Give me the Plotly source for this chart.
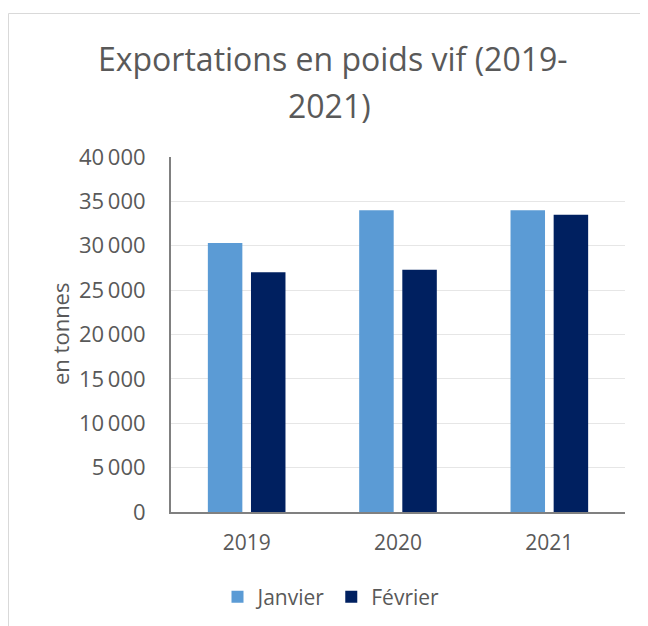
import plotly.graph_objects as go

years = ["2019", "2020", "2021"]
janvier = [30300, 34000, 34000]
fevrier = [27000, 27300, 33500]
tick_vals = [0, 5000, 10000, 15000, 20000, 25000, 30000, 35000, 40000]
tick_text = ["0", "5\u2009000", "10\u2009000", "15\u2009000", "20\u2009000",
             "25\u2009000", "30\u2009000", "35\u2009000", "40\u2009000"]
title_lines = ["Exportations en poids vif (2019-", "2021)"]

FONT = "Open Sans, Noto Sans, sans-serif"
GRAY = "#595959"

fig = go.Figure()
fig.add_trace(go.Bar(name="Janvier", x=years, y=janvier, marker_color="#5b9bd5",
                     marker_line_width=0))
fig.add_trace(go.Bar(name="Février", x=years, y=fevrier, marker_color="#002060",
                     marker_line_width=0))

W, H = 648, 626
OFF = 8  # page body margin offset
L, R, T, B = 163, 31, 149, 122
pw, ph = W - L - R, H - T - B

def px(xs):
    return (xs - OFF - L) / pw

def py(ys):
    return (H - B - (ys - OFF)) / ph

fig.update_layout(
    width=W, height=H,
    margin=dict(l=L, r=R, t=T, b=B, autoexpand=False),
    paper_bgcolor="white", plot_bgcolor="white",
    barmode="group", bargap=0.43, bargroupgap=0.2,
    font=dict(family=FONT, color=GRAY),
    xaxis=dict(showgrid=False, showline=True, linecolor="#808080", linewidth=2,
               ticks="", ticklabelstandoff=11, tickangle=0, automargin=False,
               tickfont=dict(size=21, color=GRAY, family=FONT)),
    yaxis=dict(range=[0, 40000], tickvals=tick_vals, ticktext=tick_text,
               showgrid=True, gridcolor="#e6e6e6", gridwidth=1,
               showline=True, linecolor="#808080", linewidth=2,
               zeroline=False, ticks="", ticklabelstandoff=19, automargin=False,
               tickfont=dict(size=22, color=GRAY, family=FONT)),
    legend=dict(orientation="h", x=px(331), xanchor="center",
                y=py(597), yanchor="middle",
                font=dict(size=21, color=GRAY, family=FONT),
                itemwidth=30, traceorder="normal"),
    showlegend=True,
)

fig.add_annotation(text=title_lines[0], xref="paper", yref="paper",
                   x=px(333), y=py(59), xanchor="center", yanchor="middle",
                   showarrow=False, font=dict(size=32, color=GRAY, family=FONT))
fig.add_annotation(text=title_lines[1], xref="paper", yref="paper",
                   x=px(329), y=py(105), xanchor="center", yanchor="middle",
                   showarrow=False, font=dict(size=32, color=GRAY, family=FONT))
fig.add_annotation(text="en tonnes", xref="paper", yref="paper",
                   x=px(60), y=py(334), xanchor="center", yanchor="middle",
                   textangle=-90, showarrow=False,
                   font=dict(size=22, color=GRAY, family=FONT))

fig.add_shape(type="rect", xref="paper", yref="paper",
              x0=px(8.5), x1=px(720), y0=py(720), y1=py(13.5),
              line=dict(color="#d9d9d9", width=1), fillcolor="rgba(0,0,0,0)",
              layer="below")

fig.write_html("out.html")
